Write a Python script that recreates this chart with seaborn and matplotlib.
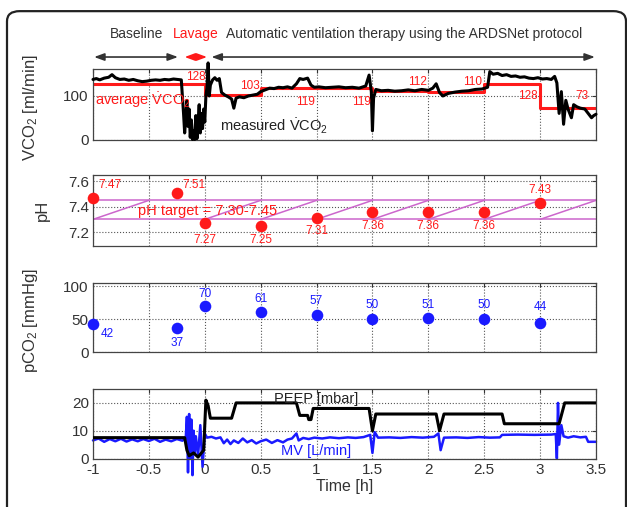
import matplotlib
matplotlib.use("Agg")
import pandas as pd
import seaborn as sns
import matplotlib.pyplot as plt
from matplotlib.patches import FancyBboxPatch
from matplotlib.ticker import FuncFormatter

# --- data ---------------------------------------------------------------
# averaged VCO2 per half-hour segment (ml/min)
seg_edges = [-1.0, 0.0, 0.5, 1.0, 1.5, 2.0, 2.5, 3.0, 3.5]
avg_vco2 = [128, 103, 119, 119, 112, 110, 128, 73]

# measured VCO2 trace (ml/min)
vco2_t = [-1.00, -0.97, -0.94, -0.90, -0.86, -0.83, -0.80, -0.76, -0.72, -0.68,
          -0.64, -0.60, -0.56, -0.52, -0.48, -0.44, -0.40, -0.36, -0.32, -0.28,
          -0.24, -0.21, -0.19, -0.18, -0.17, -0.16, -0.15, -0.14, -0.13, -0.12,
          -0.11, -0.10, -0.09, -0.08, -0.07, -0.06, -0.05, -0.04, -0.03, -0.02,
          -0.01, 0.00, 0.01, 0.02, 0.03, 0.04, 0.05, 0.07, 0.09, 0.11,
          0.13, 0.15, 0.18, 0.21, 0.24, 0.26, 0.28, 0.31, 0.35, 0.39,
          0.43, 0.47, 0.50, 0.54, 0.58, 0.62, 0.66, 0.70, 0.74, 0.78,
          0.82, 0.85, 0.88, 0.92, 0.95, 0.98, 1.02, 1.08, 1.14, 1.20,
          1.26, 1.32, 1.38, 1.44, 1.47, 1.49, 1.50, 1.51, 1.53, 1.58,
          1.64, 1.70, 1.76, 1.82, 1.88, 1.94, 2.00, 2.04, 2.07, 2.10,
          2.13, 2.18, 2.24, 2.30, 2.36, 2.42, 2.48, 2.53, 2.55, 2.58,
          2.62, 2.66, 2.70, 2.74, 2.78, 2.82, 2.86, 2.90, 2.94, 2.98,
          3.02, 3.06, 3.10, 3.13, 3.15, 3.17, 3.19, 3.21, 3.23, 3.25,
          3.28, 3.30, 3.33, 3.36, 3.40, 3.43, 3.46, 3.48, 3.50]
vco2_meas = [138, 140, 137, 141, 143, 149, 142, 138, 139, 136,
             138, 135, 133, 134, 136, 137, 136, 138, 137, 139,
             138, 137, 60, 15, 50, 90, 30, 70, 5, 45,
             0, 20, 0, 55, 2, 40, 80, 15, 60, 25,
             70, 40, 100, 120, 176, 100, 125, 137, 142, 136,
             140, 108, 102, 98, 93, 72, 95, 98, 96, 100,
             102, 104, 110, 114, 118, 117, 120, 119, 121, 118,
             128, 140, 138, 141, 125, 120, 121, 119, 120, 121,
             119, 120, 118, 123, 148, 110, 20, 95, 115, 112,
             113, 111, 112, 114, 112, 115, 113, 118, 128, 108,
             100, 106, 109, 111, 112, 115, 116, 120, 156, 150,
             152, 147, 149, 145, 146, 143, 144, 141, 140, 142,
             139, 140, 138, 145, 130, 60, 110, 35, 90, 70,
             50, 80, 75, 72, 70, 60, 50, 55, 58]

# blood gas samples
sample_t = [-1.0, -0.25, 0.0, 0.5, 1.0, 1.5, 2.0, 2.5, 3.0]
ph = [7.47, 7.51, 7.27, 7.25, 7.31, 7.36, 7.36, 7.36, 7.43]
pco2 = [42, 37, 70, 61, 57, 50, 51, 50, 44]
ph_target = [7.30, 7.45]

# PEEP (mbar)
peep_t = [-1.0, -0.18, -0.16, -0.14, -0.10, -0.06, -0.03, -0.01, 0.01, 0.03,
          0.05, 0.24, 0.28, 0.82, 0.85, 0.92, 0.93, 0.95, 0.97, 1.47,
          1.50, 1.53, 2.07, 2.10, 2.14, 2.66, 2.68, 3.17, 3.22, 3.50]
peep = [7.5, 7.5, 3, 1, 2, 0.5, 2, 3, 21, 19,
        14.5, 14.5, 20, 20, 15.5, 15.5, 14, 14, 18, 18,
        10, 16, 16, 10, 16, 16, 12.5, 12.5, 20, 20]

# minute ventilation (L/min)
mv_t = [-1.00, -0.95, -0.90, -0.85, -0.80, -0.75, -0.70, -0.65, -0.60, -0.55,
        -0.50, -0.45, -0.40, -0.35, -0.30, -0.25, -0.20, -0.17, -0.16, -0.15,
        -0.14, -0.13, -0.12, -0.11, -0.10, -0.09, -0.08, -0.06, -0.04, -0.02,
        0.00, 0.02, 0.06, 0.10, 0.14, 0.17, 0.20, 0.23, 0.26, 0.30,
        0.34, 0.38, 0.42, 0.46, 0.50, 0.55, 0.60, 0.65, 0.70, 0.74,
        0.78, 0.82, 0.84, 0.88, 0.93, 0.98, 1.05, 1.12, 1.20, 1.28,
        1.35, 1.42, 1.48, 1.50, 1.52, 1.55, 1.65, 1.75, 1.85, 1.95,
        2.05, 2.09, 2.11, 2.14, 2.25, 2.35, 2.45, 2.55, 2.64, 2.66,
        2.80, 2.95, 3.10, 3.14, 3.15, 3.16, 3.17, 3.19, 3.21, 3.25,
        3.30, 3.36, 3.41, 3.43, 3.50]
mv = [6.5, 7.2, 6.0, 7.0, 6.2, 7.1, 6.1, 6.9, 6.2, 7.0,
      6.3, 7.1, 6.0, 6.8, 6.2, 7.0, 6.4, 7.5, 15, -5,
      16, 0, 14, -6, 10, 2, 8, 1, 12, -3,
      9, 7.5, 7.8, 7.2, 7.6, 5.5, 6.8, 5.2, 6.5, 5.6,
      7.2, 5.8, 6.6, 5.4, 6.2, 6.8, 5.6, 6.6, 5.8, 6.8,
      7.2, 9, 6.5, 7.4, 7.0, 7.5, 7.2, 7.6, 7.3, 7.6,
      7.4, 7.7, 8.5, 2, 9.5, 7.5, 7.6, 7.4, 7.7, 7.5,
      7.8, 9, 3, 7.5, 7.6, 7.4, 7.7, 7.5, 7.6, 8.5,
      8.6, 8.5, 8.6, 8.8, 0, 20, 5, 12, 8, 7.5,
      8.0, 7.6, 7.8, 6.0, 6.0]

x_ticks = [-1, -0.5, 0, 0.5, 1, 1.5, 2, 2.5, 3, 3.5]

# --- style ---------------------------------------------------------------
sns.set_style("white")
plt.rcParams["font.family"] = ["Liberation Sans", "DejaVu Sans"]
plt.rcParams["mathtext.fontset"] = "custom"
plt.rcParams["mathtext.rm"] = "Liberation Sans"
plt.rcParams["mathtext.it"] = "Liberation Sans:italic"
plt.rcParams["mathtext.default"] = "regular"
plt.rcParams["axes.unicode_minus"] = False

RED = "#ff1a1a"
BLUE = "#1a1aff"
MAG = "#cc66cc"
GRID = "#555555"
TXT = "#333333"

fig = plt.figure(figsize=(6.27, 5.07), dpi=100)
left, width = 93 / 627, 503 / 627
ax1 = fig.add_axes([left, 1 - 139.5 / 507, width, 70.5 / 507])
ax2 = fig.add_axes([left, 1 - 246 / 507, width, 71 / 507])
ax3 = fig.add_axes([left, 1 - 352 / 507, width, 69 / 507])
ax4 = fig.add_axes([left, 1 - 458.5 / 507, width, 69.5 / 507])


def style_axes(ax, yticks, ylim, show_x):
    ax.set_xlim(-1, 3.5)
    ax.set_ylim(*ylim)
    ax.set_xticks(x_ticks)
    ax.set_yticks(yticks)
    ax.xaxis.set_major_formatter(FuncFormatter(lambda v, p: "%g" % v))
    ax.yaxis.set_major_formatter(FuncFormatter(lambda v, p: "%g" % v))
    ax.tick_params(direction="in", length=3, width=0.8, top=True, right=True,
                   labelsize=11, colors=TXT, pad=3)
    if not show_x:
        ax.tick_params(labelbottom=False)
    ax.grid(True, linestyle=":", color=GRID, linewidth=0.8)
    for s in ax.spines.values():
        s.set_color("#444444")
        s.set_linewidth(0.9)
    ax.set_xlabel("")
    ax.set_ylabel("")


# --- panel 1: VCO2 -------------------------------------------------------
df_avg = pd.DataFrame({"t": seg_edges, "v": avg_vco2 + [avg_vco2[-1]]})
df_meas = pd.DataFrame({"t": vco2_t, "v": vco2_meas})
sns.lineplot(data=df_avg, x="t", y="v", ax=ax1, color=RED, lw=2.2,
             drawstyle="steps-post", estimator=None, zorder=2)
sns.lineplot(data=df_meas, x="t", y="v", ax=ax1, color="black", lw=2.2,
             estimator=None, clip_on=False, zorder=3)
style_axes(ax1, [0, 100], (0, 162), False)
ax1.set_ylabel("VCO$_2$ [ml/min]", fontsize=12, color=TXT)
ax1.yaxis.set_label_coords(-0.105, 0.45)

# segment labels (x, y, index into avg_vco2)
avg_lbl_pos = [(-0.08, 144, 0), (0.40, 124, 1), (0.90, 87, 2), (1.40, 87, 3),
               (1.90, 133, 4), (2.40, 133, 5), (2.89, 100, 6), (3.37, 100, 7)]
for x, y, i in avg_lbl_pos:
    ax1.text(x, y, str(avg_vco2[i]), color=RED, fontsize=8.5,
             ha="center", va="center")
ax1.text(-0.98, 91, r"average $\dot{V}CO_2$", color=RED, fontsize=10.5,
         ha="left", va="center")
ax1.text(0.14, 29, r"measured $\dot{V}CO_2$", color="#222222", fontsize=10.5,
         ha="left", va="center")

# phase annotations above the first panel
tr = ax1.get_xaxis_transform()
ax1.text(-0.61, 1.5, "Baseline", transform=tr, ha="center", va="center",
         fontsize=10, color=TXT)
ax1.text(-0.085, 1.5, "Lavage", transform=tr, ha="center", va="center",
         fontsize=10, color=RED)
ax1.text(0.19, 1.5, "Automatic ventilation therapy using the ARDSNet protocol",
         transform=tr, ha="left", va="center", fontsize=10, color=TXT)
arrow_kw = dict(arrowstyle="<|-|>,head_length=0.6,head_width=0.22", lw=1.2,
                shrinkA=0, shrinkB=0)
for x0, x1, c in [(-0.99, -0.24, "#333333"), (-0.18, 0.02, RED),
                  (0.06, 3.49, "#333333")]:
    ax1.annotate("", xy=(x1, 1.17), xytext=(x0, 1.17), xycoords=tr,
                 textcoords=tr, arrowprops=dict(color=c, **arrow_kw),
                 annotation_clip=False)

# --- panel 2: pH ---------------------------------------------------------
for y in ph_target:
    ax2.axhline(y, color=MAG, lw=1.1, zorder=1)
for t0 in seg_edges[:-1]:
    ax2.plot([t0, t0 + 0.5], ph_target, color=MAG, lw=1.1, zorder=1)
df_ph = pd.DataFrame({"t": sample_t, "v": ph})
sns.scatterplot(data=df_ph, x="t", y="v", ax=ax2, color=RED, s=70,
                edgecolor=RED, linewidth=0, clip_on=False, zorder=3)
style_axes(ax2, [7.2, 7.4, 7.6], (7.09, 7.65), False)
ax2.set_ylabel("pH", fontsize=12, color=TXT)
ax2.yaxis.set_label_coords(-0.085, 0.5)
ph_lbl_off = [(0.05, 0.10, "left"), (0.05, 0.06, "left"), (0, -0.13, "center"),
              (0, -0.11, "center"), (0, -0.10, "center"), (0, -0.115, "center"),
              (0, -0.115, "center"), (0, -0.115, "center"), (0, 0.10, "center")]
for t, v, (dx, dy, ha) in zip(sample_t, ph, ph_lbl_off):
    ax2.text(t + dx, v + dy, "%.2f" % v, color=RED, fontsize=8.5,
             ha=ha, va="center")
ax2.text(-0.6, 7.37, "pH target = 7.30-7.45", color=RED, fontsize=10.5,
         ha="left", va="center")

# --- panel 3: pCO2 -------------------------------------------------------
df_pco2 = pd.DataFrame({"t": sample_t, "v": pco2})
sns.scatterplot(data=df_pco2, x="t", y="v", ax=ax3, color=BLUE, s=70,
                edgecolor=BLUE, linewidth=0, clip_on=False, zorder=3)
style_axes(ax3, [0, 50, 100], (0, 105), False)
ax3.set_ylabel("pCO$_2$ [mmHg]", fontsize=12, color=TXT)
ax3.yaxis.set_label_coords(-0.105, 0.45)
pco2_lbl_off = [(0.13, -15), (0, -23), (0, 19), (0, 19), (0, 20),
                (0, 21), (0, 20), (0, 21), (0, 24)]
for t, v, (dx, dy) in zip(sample_t, pco2, pco2_lbl_off):
    ax3.text(t + dx, v + dy, str(v), color=BLUE, fontsize=8.5,
             ha="center", va="center")

# --- panel 4: PEEP and MV ------------------------------------------------
df_mv = pd.DataFrame({"t": mv_t, "v": mv})
df_peep = pd.DataFrame({"t": peep_t, "v": peep})
sns.lineplot(data=df_mv, x="t", y="v", ax=ax4, color=BLUE, lw=1.8,
             estimator=None, clip_on=False, zorder=2)
sns.lineplot(data=df_peep, x="t", y="v", ax=ax4, color="black", lw=2.2,
             estimator=None, zorder=3)
style_axes(ax4, [0, 10, 20], (0, 25), True)
ax4.text(1.0, 21.3, "PEEP [mbar]", color="#222222", fontsize=10.5,
         ha="center", va="center")
ax4.text(1.0, 2.8, "MV [L/min]", color=BLUE, fontsize=10.5,
         ha="center", va="center")
ax4.set_xlabel("Time [h]", fontsize=11.5, color=TXT, labelpad=2)

# rounded outer frame of the original figure (right edge runs off the image)
frame = FancyBboxPatch((7 / 627, -0.1), 619 / 627, 1.078,
                       boxstyle="round,pad=0,rounding_size=0.02",
                       transform=fig.transFigure, fill=False,
                       edgecolor="#222222", lw=1.6)
fig.patches.append(frame)

fig.savefig("out.png", dpi=100)
